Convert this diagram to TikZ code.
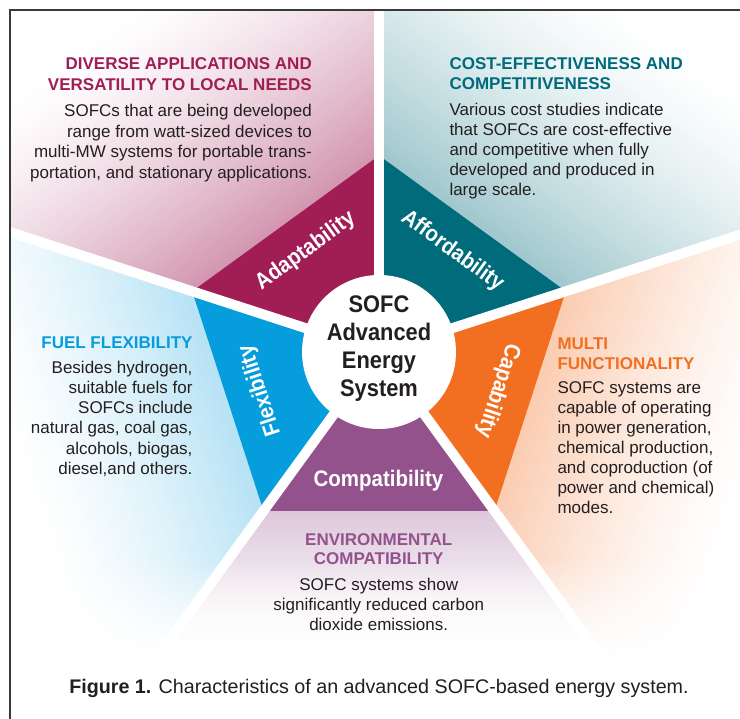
\documentclass[tikz,border=0pt]{standalone}
\usepackage{fontspec}
\setmainfont{Liberation Sans}
\newfontfamily\condfont{Liberation Sans}[FakeStretch=0.91]
\usetikzlibrary{calc}
\definecolor{cAdapt}{HTML}{A01E55}
\definecolor{cAfford}{HTML}{006B7B}
\definecolor{cCap}{HTML}{F26F21}
\definecolor{cFlex}{HTML}{069DDC}
\definecolor{cComp}{HTML}{93528C}
\definecolor{txt}{HTML}{231F20}
\definecolor{framecol}{HTML}{3A3A3A}
\newcommand\bodyfont{\fontsize{17}{20}\selectfont}
\newcommand\headfont{\fontsize{17}{20}\selectfont\bfseries}
% #1 ray a, #2 ray b, #3 bisector, #4 colour, #5 tint %, #6 fade distance
\newcommand\sectorshade[6]{%
  \begin{scope}
    \clip (10.6,0) rectangle (740,708.4);
    \clip[shift={(C)}] (0,0) -- (#1:900) -- (#2:900) -- cycle;
    \begin{scope}[shift={(C)}, rotate=#3-90]
      \pgfmathsetmacro\stp{(#6-159)/60}%
      \foreach \k in {0,...,59}{%
        \pgfmathsetmacro\dd{159+\k*\stp}%
        \pgfmathsetmacro\ee{\dd+\stp+0.8}%
        \pgfmathsetmacro\pp{#5*(1-\k/60)^1.4}%
        \fill[#4!\pp!white] (-800,\dd) rectangle (800,\ee);
      }
    \end{scope}
  \end{scope}}
% #1 prefix, #2 anchor, #3 x, #4 first baseline, #5 skip, #6 lines
\newcommand\textlines[6]{%
  \foreach \tline [count=\i] in {#6}{%
    \node[anchor=#2, inner sep=0pt] (#1\i) at ({#3},{#4-(\i-1)*#5}) {\tline};
  }}
\tikzset{
  bandlabel/.style={font=\condfont\bfseries\fontsize{22.5}{24}\selectfont, text=white, inner sep=0pt, anchor=base},
}
\begin{document}
\begin{tikzpicture}[x=1pt,y=1pt]
\useasboundingbox (0,0) rectangle (740,719);
\fill[white] (0,0) rectangle (740,719);
\coordinate (C) at (379,367);
% outer gradient regions
\sectorshade{90}{162}{126}{cAdapt}{46}{420}
\sectorshade{18}{90}{54}{cAfford}{37}{420}
\sectorshade{-54}{18}{-18}{cCap}{35}{390}
\sectorshade{234}{306}{270}{cComp}{32}{315}
\sectorshade{162}{234}{198}{cFlex}{29}{380}
% bottom fade
\foreach \k in {0,...,49}{%
  \pgfmathsetmacro\op{(\k+1)/50}%
  \pgfmathsetmacro\ya{159-2*\k}%
  \pgfmathsetmacro\yb{\ya-2.05}%
  \fill[white, fill opacity=\op] (10.6,\ya) rectangle (740,\yb);
}
\fill[white] (10.6,0) rectangle (740,59.2);
% dark bands
\foreach \a/\col in {90/cAdapt, 18/cAfford, 306/cCap, 234/cComp, 162/cFlex}
  \fill[\col] (C) -- ++(\a:196.5) -- ($(C)+(\a+72:196.5)$) -- cycle;
% white gaps
\foreach \a in {90,162,234,306,18}
  \draw[white, line width=10pt] (C) -- ++(\a:900);
% hub
\node[circle, fill=white, minimum size=154pt, inner sep=0pt] (hub) at (C) {};
% frame
\draw[framecol, line width=1.3pt] (10,0) -- (10,709) -- (740,709);
% centre text
\begin{scope}[nodes={font=\condfont\bfseries\fontsize{24}{28}\selectfont, text=txt}]
  \textlines{ctr}{base}{379}{406}{27.9}{SOFC, Advanced, Energy, System}
\end{scope}
% band labels
\node[bandlabel, rotate=36] (lAdapt) at ($(C)+(126:119)$) {Adaptability};
\node[bandlabel, rotate=-36] (lAfford) at ($(C)+(54:119)$) {Affordability};
\node[bandlabel, rotate=-108] (lCap) at ($(C)+(-18:119)$) {Capability};
\node[bandlabel, rotate=108] (lFlex) at ($(C)+(198:119)$) {Flexibility};
\node[bandlabel] (lComp) at (378.5,232) {Compatibility};
% block 1
\begin{scope}[nodes={font=\headfont, text=cAdapt}]
  \textlines{h1-}{base east}{312}{649}{20.7}{DIVERSE APPLICATIONS AND, VERSATILITY TO LOCAL NEEDS}
\end{scope}
\begin{scope}[nodes={font=\bodyfont, text=txt}]
  \textlines{b1-}{base east}{312}{602}{20.5}{SOFCs that are being developed, range from watt-sized devices to, multi-MW systems for portable trans-, {portation, and stationary applications.}}
\end{scope}
% block 2
\begin{scope}[nodes={font=\headfont, text=cAfford}]
  \textlines{h2-}{base west}{449.3}{649}{20}{COST-EFFECTIVENESS AND, COMPETITIVENESS}
\end{scope}
\begin{scope}[nodes={font=\bodyfont, text=txt}]
  \textlines{b2-}{base west}{449.3}{603.3}{20}{Various cost studies indicate, that SOFCs are cost-effective, and competitive when fully, developed and produced in, large scale.}
\end{scope}
% block 3
\begin{scope}[nodes={font=\headfont, text=cFlex}]
  \textlines{h3-}{base east}{192.7}{370}{20}{FUEL FLEXIBILITY}
\end{scope}
\begin{scope}[nodes={font=\bodyfont, text=txt}]
  \textlines{b3-}{base east}{192.7}{345.7}{20.2}{{Besides hydrogen,}, suitable fuels for, SOFCs include, {natural gas, coal gas,}, {alcohols, biogas,}, {diesel,and others.}}
\end{scope}
% block 4
\begin{scope}[nodes={font=\headfont, text=cCap}]
  \textlines{h4-}{base west}{557.3}{369.7}{20}{MULTI, FUNCTIONALITY}
\end{scope}
\begin{scope}[nodes={font=\bodyfont, text=txt}]
  \textlines{b4-}{base west}{557.3}{325}{20}{SOFC systems are, capable of operating, {in power generation,}, {chemical production,}, and coproduction (of, power and chemical), modes.}
\end{scope}
% block 5
\begin{scope}[nodes={font=\headfont, text=cComp}]
  \textlines{h5-}{base}{378.7}{173}{19}{ENVIRONMENTAL, COMPATIBILITY}
\end{scope}
\begin{scope}[nodes={font=\bodyfont, text=txt}]
  \textlines{b5-}{base}{378.7}{128.3}{20}{SOFC systems show, significantly reduced carbon, dioxide emissions.}
\end{scope}
% caption
\node[anchor=base, inner sep=0pt, font=\fontsize{19.7}{23}\selectfont, text=txt] (caption) at (379,25)
  {\textbf{Figure 1.} Characteristics of an advanced SOFC-based energy system.};
\end{tikzpicture}
\end{document}
